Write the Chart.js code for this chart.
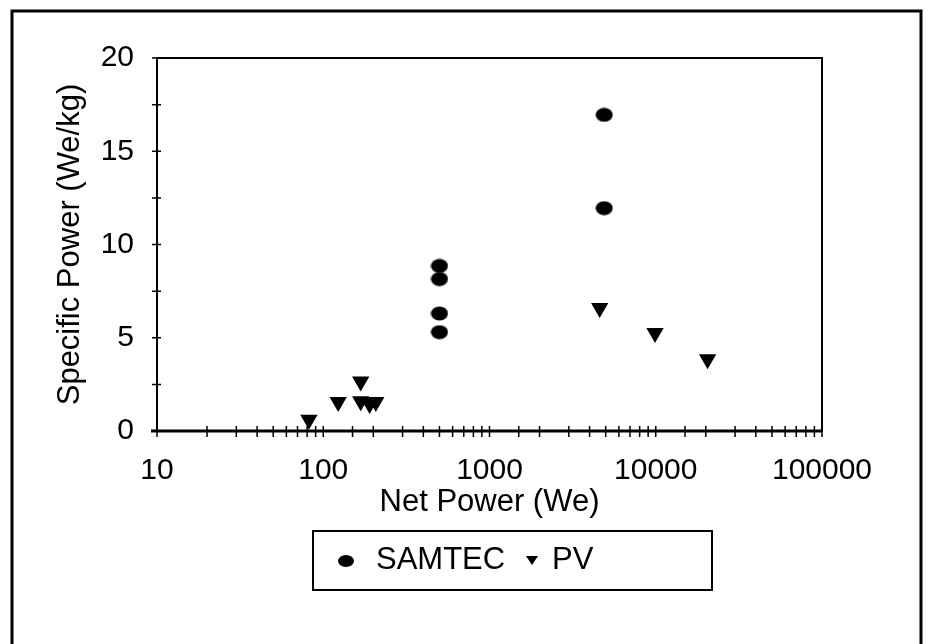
<!DOCTYPE html>
<html>
<head>
<meta charset="utf-8">
<script src="https://cdn.jsdelivr.net/npm/chart.js@4/dist/chart.umd.min.js"></script>
<style>
  body { margin: 0; background: #fff; }
  canvas { display: block; }
</style>
</head>
<body>
<canvas id="chart" width="928" height="644"></canvas>
<script>
// Data
const seriesNames = ['SAMTEC', 'PV'];
const samtecX = [500, 500, 500, 500, 4900, 4900];
const samtecY = [8.85, 8.15, 6.3, 5.3, 16.95, 11.95];
const pvX = [82, 123, 168, 168, 190, 207, 4600, 9900, 20500];
const pvY = [0.6, 1.55, 2.65, 1.6, 1.45, 1.55, 6.6, 5.25, 3.85];
const xTickLabels = [10, 100, 1000, 10000, 100000];
const yTickLabels = [0, 5, 10, 15, 20];

const FONT = '"Liberation Sans", Arial, sans-serif';

// SAMTEC marks are flattened dots, so use a little canvas as the point style
function ellipseMark(w, h) {
  const c = document.createElement('canvas');
  c.width = w; c.height = h;
  const g = c.getContext('2d');
  g.fillStyle = '#000';
  g.beginPath();
  g.ellipse(w / 2, h / 2, w / 2 - 0.5, h / 2 - 0.5, 0, 0, Math.PI * 2);
  g.fill();
  return c;
}
const dot = ellipseMark(18, 15);

function toPoints(xs, ys) {
  return xs.map((x, i) => ({ x: x, y: ys[i] }));
}

// frame, crossing tick marks and the boxed legend
const decorations = {
  id: 'decorations',
  beforeDraw(chart) {
    const ctx = chart.ctx;
    ctx.save();
    ctx.fillStyle = '#fff';
    ctx.fillRect(0, 0, chart.width, chart.height);
    ctx.restore();
  },
  afterDraw(chart) {
    const ctx = chart.ctx;
    const area = chart.chartArea;
    const xs = chart.scales.x;
    const ys = chart.scales.y;
    ctx.save();
    ctx.strokeStyle = '#000';

    // outer frame
    ctx.lineWidth = 3;
    ctx.strokeRect(12, 11, 909, 700);

    // plot frame
    ctx.lineWidth = 2;
    ctx.strokeRect(area.left, area.top, area.right - area.left, area.bottom - area.top);
    ctx.lineWidth = 3;
    ctx.beginPath();
    ctx.moveTo(area.left - 6, area.bottom);
    ctx.lineTo(area.right, area.bottom);
    ctx.stroke();

    // ticks crossing the axes
    ctx.lineWidth = 1.5;
    ctx.beginPath();
    xs.ticks.forEach(t => {
      const px = xs.getPixelForValue(t.value);
      ctx.moveTo(px, area.bottom - 5);
      ctx.lineTo(px, area.bottom + 6);
    });
    ys.ticks.forEach(t => {
      const py = ys.getPixelForValue(t.value);
      ctx.moveTo(area.left - 5, py);
      ctx.lineTo(area.left + 4, py);
    });
    ctx.stroke();

    // legend box
    ctx.lineWidth = 2;
    ctx.strokeRect(313, 531, 399, 59);
    ctx.fillStyle = '#000';
    ctx.beginPath();
    ctx.ellipse(346, 561, 8, 6, 0, 0, Math.PI * 2);
    ctx.fill();
    ctx.beginPath();
    ctx.moveTo(526, 556);
    ctx.lineTo(538, 556);
    ctx.lineTo(532, 565);
    ctx.closePath();
    ctx.fill();
    ctx.font = '31px ' + FONT;
    ctx.textBaseline = 'middle';
    ctx.textAlign = 'left';
    ctx.fillText(seriesNames[0], 376, 560);
    ctx.fillText(seriesNames[1], 552, 560);
    ctx.restore();
  }
};

new Chart(document.getElementById('chart'), {
  type: 'scatter',
  data: {
    datasets: [{
      label: seriesNames[0],
      data: toPoints(samtecX, samtecY),
      pointStyle: dot,
      backgroundColor: '#000',
      borderColor: '#000'
    }, {
      label: seriesNames[1],
      data: toPoints(pvX, pvY),
      pointStyle: 'triangle',
      rotation: 180,
      pointRadius: 10,
      borderWidth: 0,
      backgroundColor: '#000',
      borderColor: '#000'
    }]
  },
  options: {
    responsive: false,
    devicePixelRatio: 1,
    animation: false,
    events: [],
    layout: { padding: { left: 12, top: 58, right: 106, bottom: 123 } },
    plugins: {
      legend: { display: false },
      tooltip: { enabled: false }
    },
    scales: {
      x: {
        type: 'logarithmic',
        min: 10,
        max: 100000,
        afterFit: s => { s.height = 90; },
        grid: { display: false, drawTicks: false },
        border: { display: false },
        ticks: {
          autoSkip: false,
          maxRotation: 0,
          padding: 22,
          color: '#000',
          font: { family: FONT, size: 30 },
          callback: v => xTickLabels.includes(v) ? String(v) : ''
        },
        title: {
          display: true,
          text: 'Net Power (We)',
          color: '#000',
          padding: 0,
          font: { family: FONT, size: 31 }
        }
      },
      y: {
        min: 0,
        max: 20,
        afterFit: s => { s.width = 145; },
        grid: { display: false, drawTicks: false },
        border: { display: false },
        ticks: {
          stepSize: 2.5,
          autoSkip: false,
          padding: 23,
          color: '#000',
          font: { family: FONT, size: 30 },
          callback: v => yTickLabels.includes(v) ? String(v) : ''
        },
        title: {
          display: true,
          text: 'Specific Power (We/kg)',
          color: '#000',
          padding: { top: 40, bottom: 0 },
          font: { family: FONT, size: 31 }
        }
      }
    }
  },
  plugins: [decorations]
});
</script>
</body>
</html>
